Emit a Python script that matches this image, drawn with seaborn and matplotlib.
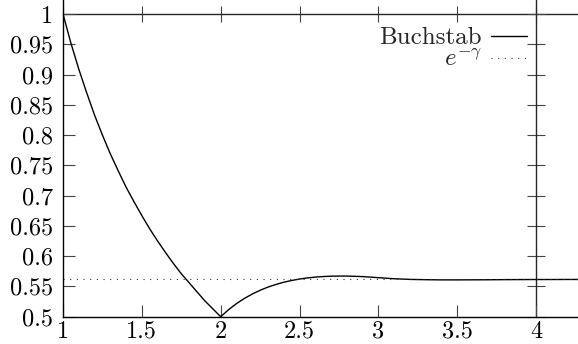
import numpy as np
import seaborn as sns
import matplotlib.pyplot as plt
from matplotlib.ticker import FixedLocator, FixedFormatter

# Buchstab function, values
u = [1.00, 1.05, 1.10, 1.15, 1.20, 1.25, 1.30, 1.35, 1.40, 1.45, 1.50,
     1.55, 1.60, 1.65, 1.70, 1.75, 1.80, 1.85, 1.90, 1.95, 2.00,
     2.05, 2.10, 2.15, 2.20, 2.25, 2.30, 2.35, 2.40, 2.45, 2.50,
     2.55, 2.60, 2.65, 2.70, 2.75, 2.80, 2.85, 2.90, 2.95, 3.00,
     3.10, 3.20, 3.30, 3.40, 3.50, 3.60, 3.70, 3.80, 3.90, 4.00,
     4.10, 4.20, 4.30]
omega = [1.000, 0.952, 0.909, 0.870, 0.833, 0.800, 0.769, 0.741, 0.714, 0.690, 0.667,
         0.645, 0.625, 0.606, 0.588, 0.571, 0.556, 0.541, 0.526, 0.513, 0.500,
         0.5116, 0.5216, 0.5301, 0.5374, 0.5436, 0.5489, 0.5532, 0.5569, 0.5598, 0.5622,
         0.5640, 0.5654, 0.5663, 0.5669, 0.5671, 0.5671, 0.5667, 0.5662, 0.5654, 0.5644,
         0.5627, 0.5616, 0.5611, 0.5608, 0.5608, 0.5609, 0.5610, 0.5612, 0.5613, 0.5614,
         0.5614, 0.5615, 0.5615]

e_gamma_x = [1.0, 4.3]
e_gamma_y = [0.5615, 0.5615]

xticks = [1, 1.5, 2, 2.5, 3, 3.5, 4]
xtick_labels = ["1", "1.5", "2", "2.5", "3", "3.5", "4"]
yticks = [0.5, 0.55, 0.6, 0.65, 0.7, 0.75, 0.8, 0.85, 0.9, 0.95, 1]
ytick_labels = ["0.5", "0.55", "0.6", "0.65", "0.7", "0.75", "0.8", "0.85", "0.9", "0.95", "1"]

sns.set_style("ticks")
plt.rcParams["font.family"] = ["cmr10", "DejaVu Serif"]
plt.rcParams["mathtext.fontset"] = "cm"
plt.rcParams["axes.unicode_minus"] = False

fig = plt.figure(figsize=(5.78, 3.44), dpi=100)
ax = fig.add_axes([0.109, 0.0794, 0.891, 0.9206])

sns.lineplot(x=u, y=omega, color="black", linewidth=1.0, label="Buchstab", ax=ax)
sns.lineplot(x=e_gamma_x, y=e_gamma_y, color="#333333", linewidth=0.8,
             linestyle=(0, (1, 5)), label=r"$e^{-\gamma}$", ax=ax)

xmax, ymax = 4.266, 1.0231
ax.set_xlim(1, xmax)
ax.set_ylim(0.5, ymax)

for side in ["top", "right"]:
    ax.spines[side].set_visible(False)
for side in ["left", "bottom"]:
    ax.spines[side].set_linewidth(1.0)
    ax.spines[side].set_color("black")

ax.xaxis.set_major_locator(FixedLocator(xticks))
ax.xaxis.set_major_formatter(FixedFormatter(xtick_labels))
ax.yaxis.set_major_locator(FixedLocator(yticks))
ax.yaxis.set_major_formatter(FixedFormatter(ytick_labels))
ax.tick_params(axis="both", direction="in", length=8.6, width=0.8, color="#444444",
               labelsize=17.5, colors="black")
ax.tick_params(axis="x", pad=3)
ax.tick_params(axis="y", pad=7)

# mirror axes drawn at y = 1 and x = 4
top = ax.secondary_xaxis((1 - 0.5) / (ymax - 0.5))
top.set_xticks(xticks)
top.tick_params(direction="inout", length=12, width=0.8, labelbottom=False,
                labeltop=False, color="#444444")
top.spines["top"].set_linewidth(1.0)
top.spines["bottom"].set_visible(False)

right = ax.secondary_yaxis((4 - 1) / (xmax - 1))
right.set_yticks(yticks)
right.tick_params(direction="inout", length=13, width=0.8, labelleft=False,
                  labelright=False, color="#444444")
right.spines["right"].set_linewidth(1.0)
right.spines["left"].set_visible(False)

ax.legend(loc="upper right", bbox_to_anchor=(0.901, 0.915), frameon=False,
          markerfirst=False, fontsize=18, handlelength=1.45, handletextpad=0.35,
          labelspacing=0.0, borderpad=0, borderaxespad=0)

fig.savefig("out.png", dpi=100)
